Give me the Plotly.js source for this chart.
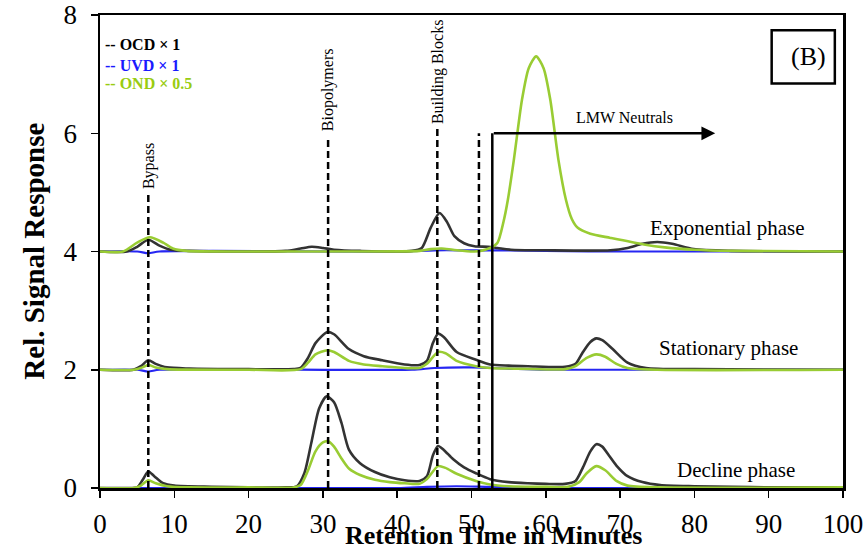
<!DOCTYPE html>
<html>
<head>
<meta charset="utf-8">
<script src="https://cdn.plot.ly/plotly-3.0.1.min.js"></script>
<style>html,body{margin:0;padding:0;background:#fff;}#chart{width:867px;height:550px;}</style>
</head>
<body>
<div id="chart"></div>
<script>
// ---------------- DATA ----------------
// Decline phase (offset 0)
var declineOcdX = [0, 4, 5, 5.8, 6.5, 7.3, 8.5, 10, 15, 20, 25, 26.5, 27.5, 28.5, 29.5, 30.5, 31.5, 32.5, 33.5, 35, 37, 39, 41, 43, 44, 44.8, 45.5, 46.3, 47.5, 49, 50.6, 52.5, 55, 57.6, 60, 62.6, 64, 65, 66, 66.8, 67.6, 68.5, 69.5, 71, 73, 75.4, 80, 85, 90, 100];
var declineOcdY = [0, 0, 0.01, 0.15, 0.28, 0.2, 0.08, 0.04, 0.02, 0.01, 0.01, 0.03, 0.25, 0.8, 1.35, 1.55, 1.45, 1.1, 0.65, 0.42, 0.27, 0.18, 0.13, 0.12, 0.2, 0.55, 0.71, 0.64, 0.49, 0.35, 0.25, 0.15, 0.1, 0.08, 0.07, 0.07, 0.12, 0.35, 0.62, 0.74, 0.7, 0.55, 0.38, 0.2, 0.1, 0.05, 0.03, 0.02, 0.01, 0.01];
var declineOndX = [0, 4.5, 5.5, 6.5, 7.5, 9, 12, 20, 26, 27, 28, 29, 30, 30.7, 31.5, 32.5, 33.5, 35, 37, 39, 41, 43, 44, 45.5, 46.5, 48, 50.6, 52.5, 55, 60, 63, 64.5, 65.5, 66.8, 68, 69.5, 71, 75, 100];
var declineOndY = [0, 0, 0.04, 0.13, 0.08, 0.03, 0.01, 0.01, 0.01, 0.05, 0.3, 0.62, 0.77, 0.79, 0.7, 0.5, 0.33, 0.22, 0.14, 0.1, 0.08, 0.07, 0.15, 0.37, 0.34, 0.24, 0.12, 0.06, 0.03, 0.02, 0.02, 0.1, 0.25, 0.37, 0.3, 0.12, 0.04, 0.01, 0.01];
var declineUvdX = [0, 40, 44, 48, 52, 56, 60, 100];
var declineUvdY = [0, 0, 0.02, 0.03, 0.02, 0.01, 0, 0];

// Stationary phase (offset 2)
var statOcdX = [0, 4.5, 5.5, 6.5, 7.5, 9, 12, 20, 26, 27, 28, 29, 30.6, 31.5, 33.5, 35.5, 38, 41, 43, 44, 44.8, 45.5, 46.3, 48, 50.6, 52.5, 55, 57.6, 62.6, 64, 65, 66, 66.8, 67.6, 69, 71, 73.5, 80, 100];
var statOcdY = [2.0, 2.0, 2.06, 2.16, 2.1, 2.04, 2.02, 2.01, 2.01, 2.03, 2.2, 2.45, 2.64, 2.6, 2.35, 2.23, 2.16, 2.09, 2.08, 2.15, 2.45, 2.61, 2.55, 2.3, 2.17, 2.09, 2.07, 2.06, 2.05, 2.1, 2.3, 2.47, 2.53, 2.5, 2.35, 2.12, 2.03, 2.01, 2.0];
var statOndX = [0, 4.5, 5.5, 6.5, 7.5, 9, 20, 27, 28, 29, 30.6, 31.5, 33.5, 35.5, 38, 41, 43, 44, 45.5, 46.5, 48, 50.6, 52.5, 55, 62.6, 64, 65.5, 66.8, 68, 69.5, 71, 75, 100];
var statOndY = [2.0, 2.0, 2.03, 2.08, 2.04, 2.01, 2.0, 2.01, 2.12, 2.26, 2.33, 2.3, 2.15, 2.09, 2.06, 2.03, 2.03, 2.1, 2.3, 2.28, 2.15, 2.06, 2.03, 2.02, 2.01, 2.06, 2.2, 2.26, 2.22, 2.1, 2.03, 2.0, 2.0];
var statUvdX = [0, 5, 6.5, 8, 42, 45, 50, 55, 60, 100];
var statUvdY = [2.0, 2.0, 1.97, 2.0, 2.0, 2.03, 2.04, 2.02, 2.0, 2.0];

// Exponential phase (offset 4)
var expOcdX = [0, 3.6, 5, 6.5, 8, 9.5, 12, 20, 25, 27, 28.5, 30, 31.5, 35, 42, 43.3, 44.5, 45.7, 46.7, 47.7, 49, 50.4, 52.2, 53.5, 55.3, 60, 68.7, 71, 73, 75, 77, 79.9, 85, 100];
var expOcdY = [4.0, 4.0, 4.08, 4.2, 4.1, 4.03, 4.01, 4.0, 4.01, 4.05, 4.08, 4.06, 4.03, 4.01, 4.01, 4.06, 4.4, 4.65, 4.5, 4.26, 4.14, 4.09, 4.08, 4.06, 4.03, 4.02, 4.02, 4.06, 4.13, 4.16, 4.13, 4.04, 4.01, 4.0];
var expOndX = [0, 3.1, 5, 6.7, 8.5, 9.8, 11.6, 20, 30, 43, 44.5, 46, 47.5, 50.4, 52.5, 53.5, 54.3, 54.9, 55.7, 56.8, 57.7, 58.7, 59.7, 60.6, 61.7, 62.7, 63.5, 64.3, 66, 68.7, 73.2, 76, 80, 85, 100];
var expOndY = [4.0, 4.0, 4.15, 4.24, 4.15, 4.05, 4.01, 4.0, 4.0, 4.01, 4.04, 4.05, 4.03, 4.0, 4.06, 4.15, 4.5, 4.88, 5.55, 6.57, 7.1, 7.3, 7.1, 6.57, 5.55, 4.88, 4.55, 4.4, 4.3, 4.23, 4.12, 4.07, 4.03, 4.01, 4.0];
var expUvdX = [0, 5, 6.5, 8, 40, 45, 50, 55, 60, 70, 100];
var expUvdY = [4.0, 4.0, 3.97, 4.0, 4.0, 4.02, 4.02, 4.02, 4.01, 4.0, 4.0];

// Fraction markers
var markerNames = ["Bypass", "Biopolymers", "Building Blocks", ""];
var markerX = [6.5, 30.7, 45.4, 51.0];
var markerTop = [5.0, 5.9, 6.1, 6.0];
var markerLabelY = [5.45, 6.73, 7.04, null];

var lmwStart = 52.8, lmwEnd = 82.8, lmwLevel = 6.0;
var phaseNames = ["Exponential phase", "Stationary phase", "Decline phase"];
var phaseLabelX = [84.5, 84.6, 85.6];
var phaseLabelY = [4.40, 2.37, 0.30];

var xTicks = [0, 10, 20, 30, 40, 50, 60, 70, 80, 90, 100];
var yTicks = [0, 2, 4, 6, 8];

// ---------------- STYLE ----------------
var cOCD = "#333333", cUVD = "#2626f2", cOND = "#99cc33";
var serif = "Liberation Serif";

function tr(x, y, color, w) {
  return {x: x, y: y, type: "scatter", mode: "lines",
    line: {color: color, width: w, shape: "spline", smoothing: 0.7},
    hoverinfo: "skip", showlegend: false};
}

var data = [
  tr(expUvdX, expUvdY, cUVD, 2.2), tr(statUvdX, statUvdY, cUVD, 2.2), tr(declineUvdX, declineUvdY, cUVD, 2.2),
  tr(expOcdX, expOcdY, cOCD, 2.6), tr(statOcdX, statOcdY, cOCD, 2.6), tr(declineOcdX, declineOcdY, cOCD, 2.6),
  tr(expOndX, expOndY, cOND, 2.6), tr(statOndX, statOndY, cOND, 2.6), tr(declineOndX, declineOndY, cOND, 2.6)
];

var shapes = [];
var annotations = [];
for (var i = 0; i < markerX.length; i++) {
  shapes.push({type: "line", xref: "x", yref: "y", x0: markerX[i], x1: markerX[i], y0: 0, y1: markerTop[i],
    line: {color: "#000", width: 2.5, dash: "7px,4px"}});
  if (markerNames[i]) {
    annotations.push({xref: "x", yref: "y", x: markerX[i], y: markerLabelY[i], text: markerNames[i],
      textangle: -90, showarrow: false, font: {family: serif, size: 16, color: "#000"}});
  }
}
// LMW neutrals bracket
shapes.push({type: "line", xref: "x", yref: "y", x0: lmwStart, x1: lmwStart, y0: 0, y1: lmwLevel,
  line: {color: "#000", width: 2.5}});
annotations.push({xref: "x", yref: "y", axref: "x", ayref: "y", x: lmwEnd, y: lmwLevel, ax: lmwStart, ay: lmwLevel,
  text: "", showarrow: true, arrowhead: 2, arrowsize: 1.1, arrowwidth: 2.5, arrowcolor: "#000", standoff: 0, startstandoff: 0});
annotations.push({xref: "x", yref: "y", x: 70.6, y: 6.26, text: "LMW Neutrals", showarrow: false,
  font: {family: serif, size: 16, color: "#000"}});

// Phase labels
for (var j = 0; j < phaseNames.length; j++) {
  annotations.push({xref: "x", yref: "y", x: phaseLabelX[j], y: phaseLabelY[j], text: phaseNames[j],
    showarrow: false, font: {family: serif, size: 21, color: "#000"}});
}

// (B) box
shapes.push({type: "rect", xref: "x", yref: "y", x0: 90.4, x1: 98.9, y0: 6.84, y1: 7.74,
  line: {color: "#000", width: 2.5}, fillcolor: "rgba(0,0,0,0)"});
annotations.push({xref: "x", yref: "y", x: 95.3, y: 7.3, text: "(B)", showarrow: false,
  font: {family: serif, size: 26, color: "#000"}});

// Legend (text)
var legendTexts = ["<b>-- OCD × 1</b>", "<b>-- UVD × 1</b>", "<b>-- OND × 0.5</b>"];
var legendColors = ["#000000", "#1a1aff", "#99cc11"];
var legendY = [0.937, 0.894, 0.856];
for (var k = 0; k < legendTexts.length; k++) {
  annotations.push({xref: "paper", yref: "paper", x: 0.004, y: legendY[k], xanchor: "left", yanchor: "middle",
    text: legendTexts[k], showarrow: false, font: {family: serif, size: 16, color: legendColors[k]}});
}

// Axis titles as annotations
annotations.push({xref: "paper", yref: "paper", x: 0.53, y: -0.1, yanchor: "middle", text: "<b>Retention Time in Minutes</b>",
  showarrow: false, font: {family: serif, size: 26, color: "#000"}});
annotations.push({xref: "paper", yref: "paper", x: -0.09, xanchor: "center", y: 0.5, textangle: -90,
  text: "<b>Rel. Signal Response</b>", showarrow: false, font: {family: serif, size: 29, color: "#000"}});

var layout = {
  width: 867, height: 550,
  margin: {l: 100, r: 24, t: 15, b: 62},
  paper_bgcolor: "#fff", plot_bgcolor: "#fff",
  showlegend: false,
  xaxis: {range: [0, 100], tickvals: xTicks, ticktext: xTicks.map(String), showgrid: false, zeroline: false,
    showline: true, linecolor: "#000", linewidth: 2.5, mirror: true, ticks: "outside", ticklen: 7, tickwidth: 1.5,
    tickcolor: "#000", ticklabelstandoff: 3, tickfont: {family: serif, size: 27, color: "#000"}},
  yaxis: {range: [0, 8], tickvals: yTicks, ticktext: yTicks.map(String), showgrid: false, zeroline: false,
    showline: true, linecolor: "#000", linewidth: 2.5, mirror: true, ticks: "outside", ticklen: 7, tickwidth: 1.5,
    tickcolor: "#000", ticklabelstandoff: 8, tickfont: {family: serif, size: 27, color: "#000"}},
  shapes: shapes,
  annotations: annotations
};

Plotly.newPlot("chart", data, layout, {displayModeBar: false, staticPlot: true});
</script>
</body>
</html>
